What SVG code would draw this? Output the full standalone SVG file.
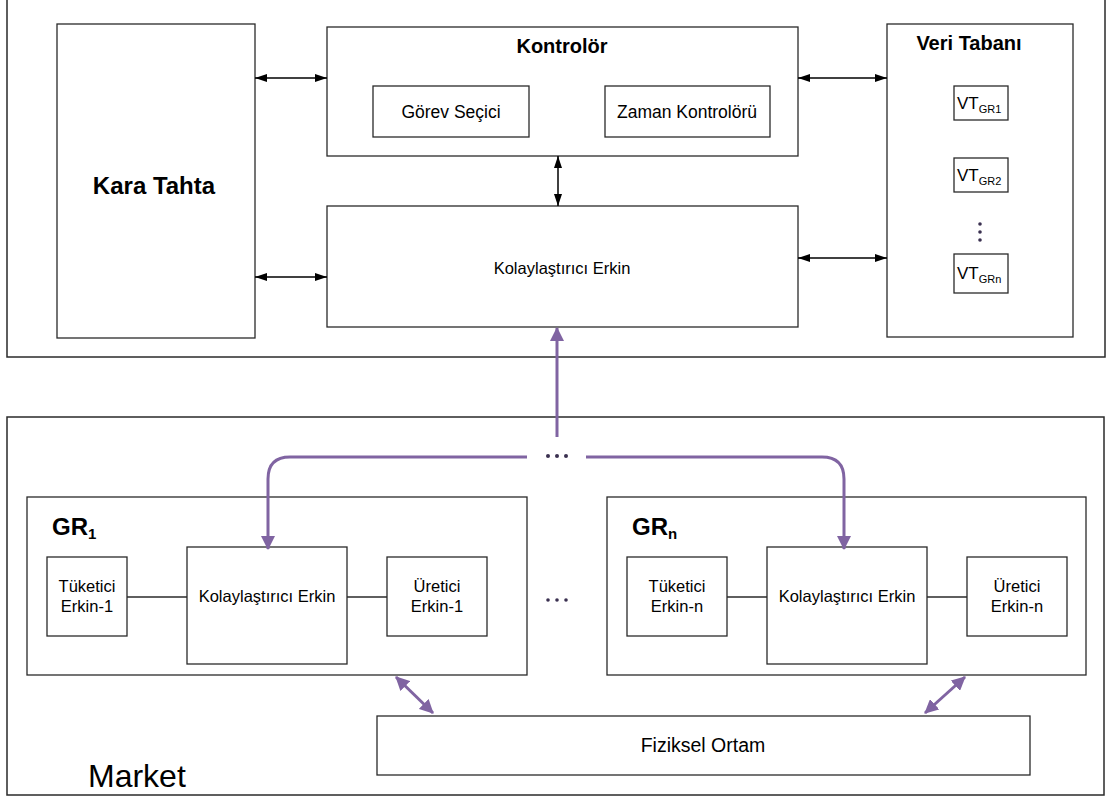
<svg xmlns="http://www.w3.org/2000/svg" width="1106" height="803" viewBox="0 0 1106 803">
  <style>
    .box { fill: #ffffff; stroke: #2a2a2a; stroke-width: 1.3; }
    .frame { fill: none; stroke: #2a2a2a; stroke-width: 1.5; }
    text { font-family: "Liberation Sans", Arial, sans-serif; fill: #000; }
    .t { font-size: 16.5px; }
    .tl { font-size: 17.5px; }
    .vt { font-size: 17px; }
    .bold { font-weight: bold; }
    .link { stroke: #2a2a2a; stroke-width: 1.3; fill: none; }
    .bi { stroke: #000; stroke-width: 1.5; fill: none; marker-start: url(#blk); marker-end: url(#blk); }
    .pur { stroke: #8064A2; stroke-width: 3; fill: none; }
    .dot { fill: #3a3050; }
  </style>
  <defs>
    <marker id="blk" viewBox="0 0 12 8" refX="12" refY="4" markerWidth="12" markerHeight="8" markerUnits="userSpaceOnUse" orient="auto-start-reverse">
      <path d="M0,0 L12,4 L0,8 Z" fill="#000"/>
    </marker>
    <marker id="pur" viewBox="0 0 14 14" refX="13" refY="7" markerWidth="14" markerHeight="14" markerUnits="userSpaceOnUse" orient="auto-start-reverse">
      <path d="M0,0 L14,7 L0,14 Z" fill="#8064A2"/>
    </marker>
  </defs>

  <!-- outer frames -->
  <g id="top-panel">
    <rect class="frame" x="7" y="-2" width="1098" height="359"/>
  </g>
  <g id="market-panel">
    <rect class="frame" x="7" y="417" width="1097" height="378"/>
    <text x="88" y="787" font-size="32">Market</text>
  </g>

  <g id="kara-tahta">
    <rect class="box" x="57" y="24" width="198" height="314"/>
    <text x="154" y="194" font-size="24" class="bold" text-anchor="middle">Kara Tahta</text>
  </g>

  <g id="kontrolor">
    <rect class="box" x="327" y="27" width="471" height="129"/>
    <text x="562" y="53" font-size="20" class="bold" text-anchor="middle">Kontrolör</text>
  </g>
  <g id="gorev-secici">
    <rect class="box" x="373" y="86" width="156" height="51"/>
    <text x="451" y="118" class="tl" text-anchor="middle">Görev Seçici</text>
  </g>
  <g id="zaman-kontroloru">
    <rect class="box" x="605" y="86" width="165" height="51"/>
    <text x="687" y="118" class="tl" text-anchor="middle">Zaman Kontrolörü</text>
  </g>

  <g id="kolaylastirici-top">
    <rect class="box" x="327" y="206" width="471" height="121"/>
    <text x="562" y="274" class="t" text-anchor="middle">Kolaylaştırıcı Erkin</text>
  </g>

  <g id="veri-tabani">
    <rect class="box" x="887" y="24" width="186" height="313"/>
    <text x="969" y="50" font-size="20" class="bold" text-anchor="middle">Veri Tabanı</text>
  </g>
  <g id="vt-gr1">
    <rect class="box" x="954" y="86" width="54" height="34"/>
    <text x="957" y="109" class="vt">VT<tspan font-size="11" dy="4">GR1</tspan></text>
  </g>
  <g id="vt-gr2">
    <rect class="box" x="954" y="158" width="54" height="34"/>
    <text x="957" y="181" class="vt">VT<tspan font-size="11" dy="4">GR2</tspan></text>
  </g>
  <g id="vt-dots">
    <circle class="dot" cx="980" cy="224" r="1.8"/>
    <circle class="dot" cx="980" cy="232" r="1.8"/>
    <circle class="dot" cx="980" cy="240" r="1.8"/>
  </g>
  <g id="vt-grn">
    <rect class="box" x="954" y="254" width="54" height="39"/>
    <text x="957" y="279" class="vt">VT<tspan font-size="11" dy="4">GRn</tspan></text>
  </g>

  <!-- group 1 -->
  <g id="gr1">
    <rect class="box" x="27" y="497" width="500" height="178"/>
    <text x="52" y="535" font-size="24" class="bold">GR<tspan font-size="15" dy="4">1</tspan></text>
  </g>
  <g id="tuketici-1">
    <rect class="box" x="47" y="557" width="80" height="79"/>
    <text x="87" y="592" class="t" text-anchor="middle">Tüketici</text>
    <text x="87" y="612" class="t" text-anchor="middle">Erkin-1</text>
  </g>
  <g id="kolaylastirici-1">
    <rect class="box" x="187" y="547" width="160" height="117"/>
    <text x="267" y="602" class="t" text-anchor="middle">Kolaylaştırıcı Erkin</text>
  </g>
  <g id="uretici-1">
    <rect class="box" x="387" y="557" width="100" height="79"/>
    <text x="437" y="592" class="t" text-anchor="middle">Üretici</text>
    <text x="437" y="612" class="t" text-anchor="middle">Erkin-1</text>
  </g>

  <g id="gr-dots">
    <circle class="dot" cx="548" cy="600" r="1.8"/>
    <circle class="dot" cx="557" cy="600" r="1.8"/>
    <circle class="dot" cx="566" cy="600" r="1.8"/>
  </g>

  <!-- group n -->
  <g id="grn">
    <rect class="box" x="607" y="497" width="479" height="178"/>
    <text x="632" y="535" font-size="24" class="bold">GR<tspan font-size="15" dy="4">n</tspan></text>
  </g>
  <g id="tuketici-n">
    <rect class="box" x="627" y="557" width="100" height="79"/>
    <text x="677" y="592" class="t" text-anchor="middle">Tüketici</text>
    <text x="677" y="612" class="t" text-anchor="middle">Erkin-n</text>
  </g>
  <g id="kolaylastirici-n">
    <rect class="box" x="767" y="547" width="160" height="117"/>
    <text x="847" y="602" class="t" text-anchor="middle">Kolaylaştırıcı Erkin</text>
  </g>
  <g id="uretici-n">
    <rect class="box" x="967" y="557" width="100" height="79"/>
    <text x="1017" y="592" class="t" text-anchor="middle">Üretici</text>
    <text x="1017" y="612" class="t" text-anchor="middle">Erkin-n</text>
  </g>

  <g id="fiziksel-ortam">
    <rect class="box" x="377" y="716" width="653" height="59"/>
    <text x="703" y="752" font-size="19.5" text-anchor="middle">Fiziksel Ortam</text>
  </g>

  <g id="connectors">
    <line class="bi" x1="255" y1="78" x2="327" y2="78"/>
    <line class="bi" x1="798" y1="78" x2="887" y2="78"/>
    <line class="bi" x1="558" y1="156" x2="558" y2="206"/>
    <line class="bi" x1="255" y1="277" x2="327" y2="277"/>
    <line class="bi" x1="798" y1="258" x2="887" y2="258"/>

    <line class="link" x1="127" y1="597" x2="187" y2="597"/>
    <line class="link" x1="347" y1="597" x2="387" y2="597"/>
    <line class="link" x1="727" y1="597" x2="767" y2="597"/>
    <line class="link" x1="927" y1="597" x2="967" y2="597"/>

    <line class="pur" x1="557" y1="437" x2="557" y2="328" marker-end="url(#pur)"/>
    <path class="pur" d="M527,457 H290 Q268,457 268,479 V549" marker-end="url(#pur)"/>
    <path class="pur" d="M586,457 H822 Q844,457 844,479 V549" marker-end="url(#pur)"/>
    <circle class="dot" cx="548" cy="456" r="2"/>
    <circle class="dot" cx="557" cy="456" r="2"/>
    <circle class="dot" cx="566" cy="456" r="2"/>

    <line class="pur" x1="396" y1="677" x2="433" y2="713" marker-start="url(#pur)" marker-end="url(#pur)"/>
    <line class="pur" x1="965" y1="677" x2="925" y2="713" marker-start="url(#pur)" marker-end="url(#pur)"/>
  </g>
</svg>
